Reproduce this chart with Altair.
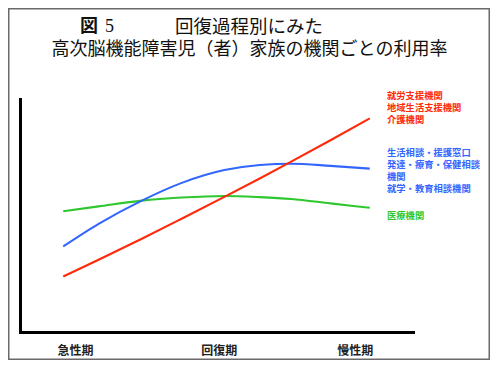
import altair as alt
import pandas as pd

# ---- data ----
t_points = [11, 20, 31, 41, 52, 61, 69, 79, 89]
red_vals = [23.8, 31.0, 40.0, 48.5, 58.0, 65.9, 73.1, 82.3, 91.7]
blue_vals = [36.7, 46.4, 56.4, 63.9, 69.5, 71.7, 72.2, 71.3, 70.1]
green_vals = [51.8, 53.9, 56.4, 57.7, 58.4, 57.9, 57.1, 55.2, 53.3]

series_names = ["医療機関", "相談機関", "就労・生活支援機関"]
series_colors = ["#2ec72e", "#3366ff", "#ff2a0a"]

stage_labels = ["急性期", "回復期", "慢性期"]
stage_pos = [14, 50.6, 85.2]

red_label = "就労支援機関\n地域生活支援機関\n介護機関"
blue_label = "生活相談・援護窓口\n発達・療育・保健相談\n機関\n就学・教育相談機関"
green_label = "医療機関"

title_fig = "図"
title_num = "5"
title_line1 = "回復過程別にみた"
title_line2 = "高次脳機能障害児（者）家族の機関ごとの利用率"

FONT = "Noto Sans CJK JP"

rows = []
for name, vals in zip(series_names, [green_vals, blue_vals, red_vals]):
    for t, v in zip(t_points, vals):
        rows.append({"t": t, "v": v, "series": name})
df = pd.DataFrame(rows)

label_expr = " : ".join(
    f"datum.value == {p} ? '{l}'" for p, l in zip(stage_pos, stage_labels)
) + " : ''"

x_enc = alt.X(
    "t:Q",
    scale=alt.Scale(domain=[0, 100], nice=False, zero=False),
    axis=alt.Axis(
        values=stage_pos, labelExpr=label_expr, title=None, ticks=False, tickSize=0,
        grid=False, domainColor="black", domainWidth=3, domainCap="square",
        labelFont=FONT, labelFontSize=12, labelFontWeight="bold", labelColor="#222",
        labelPadding=13, labelBaseline="top",
    ),
)
y_enc = alt.Y(
    "v:Q",
    scale=alt.Scale(domain=[0, 100], nice=False, zero=False),
    axis=alt.Axis(
        labels=False, ticks=False, tickSize=0, grid=False, title=None,
        domainColor="black", domainWidth=3, domainCap="square",
    ),
)
color_enc = alt.Color(
    "series:N",
    scale=alt.Scale(domain=series_names, range=series_colors),
    legend=None,
)

base = alt.Chart(df)
line_layers = [
    base.mark_line(interpolate="monotone", strokeWidth=2.1)
    .encode(x=x_enc, y=y_enc, color=color_enc)
    .transform_filter(alt.datum.series == name)
    for name in series_names
]

one = pd.DataFrame({"k": [0]})

border = alt.Chart(one).mark_rect(fillOpacity=0, stroke="#6a6a6a", strokeWidth=1.5).encode(
    x=alt.value(-11.25), x2=alt.value(469.25), y=alt.value(-90.25), y2=alt.value(260.25)
)


def text_layer(txt, x, y, size, color, weight="normal", align="left", line_height=12, font=FONT):
    d = pd.DataFrame({"label": [txt]})
    return alt.Chart(d).mark_text(
        align=align, baseline="middle", font=font, fontSize=size, fontWeight=weight,
        color=color, lineBreak="\n", lineHeight=line_height,
    ).encode(x=alt.value(x), y=alt.value(y), text="label:N")


texts = [
    text_layer(title_fig, 60, -72, 18, "#111", weight="bold"),
    text_layer(title_num, 85, -72, 18, "#111", font="Liberation Serif"),
    text_layer(title_line1, 155, -72, 18.5, "#111"),
    text_layer(title_line2, 229.5, -49, 18, "#111", align="center"),
    text_layer(red_label, 367, -3, 9.3, series_colors[2], weight="bold"),
    text_layer(blue_label, 367, 54, 9.3, series_colors[1], weight="bold"),
    text_layer(green_label, 367, 117, 9.3, series_colors[0], weight="bold"),
]

chart = alt.layer(border, *line_layers, *texts).properties(
    width=393,
    height=233,
    padding={"left": 12, "top": 91, "right": 77, "bottom": 28},
    autosize=alt.AutoSizeParams(type="none"),
    background="white",
).configure_view(stroke=None)

chart.save("out.html", embed_options={"renderer": "svg", "actions": False})
